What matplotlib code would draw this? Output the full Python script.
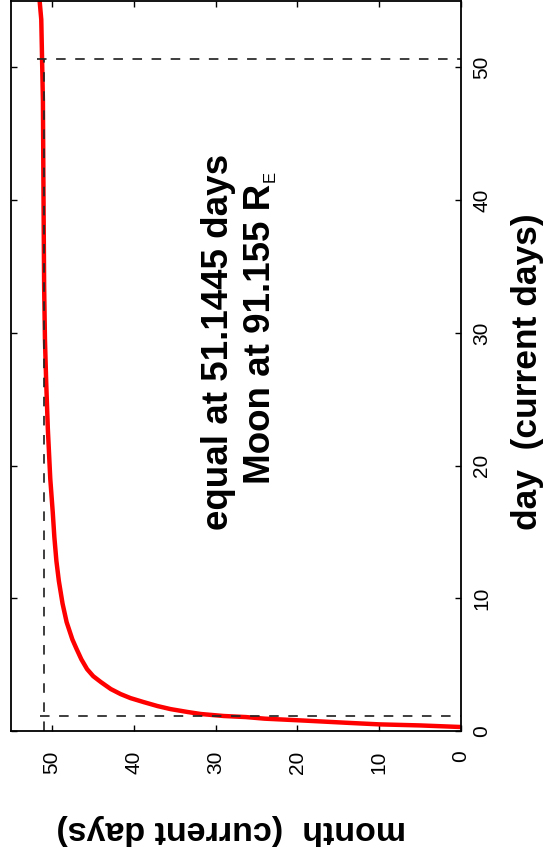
import matplotlib
matplotlib.use("Agg")
import matplotlib.pyplot as plt

plt.rcParams['font.family'] = ['Liberation Sans', 'DejaVu Sans']

# curve data: day (current days) vs month (current days)
day = [0.30, 0.42, 0.50, 0.62, 0.78, 0.93, 1.05, 1.13, 1.28, 1.43, 1.65, 1.88,
       2.18, 2.48, 2.78, 3.16, 3.68, 4.13, 4.66, 5.4, 6.2, 6.9, 8.2, 9.6,
       11.3, 12.8, 14.6, 16.5, 19.0, 22.8, 26.3, 29.5, 33.5, 37.8, 42.5, 47.5, 53.6, 55.0]
month = [0.0, 5.0, 10.0, 14.0, 19.0, 24.0, 26.3, 29.0, 31.8, 33.4, 35.5, 37.1,
         38.8, 40.4, 41.6, 42.8, 44.0, 44.95, 45.7, 46.4, 47.0, 47.5, 48.2, 48.7,
         49.15, 49.45, 49.7, 49.9, 50.2, 50.5, 50.7, 50.85, 50.95, 51.0, 51.05, 51.1, 51.3, 51.5]

# reference (dashed) lines
equal_month = 51.0
equal_day = 50.6
today_day = 1.1
hline_start = [51.8, 51.5]

day_ticks = [0, 10, 20, 30, 40, 50]
month_ticks = [0, 10, 20, 30, 40, 50]
xlim_month = (55, 0)
ylim_day = (0, 55)

fig = plt.figure(figsize=(5.46, 8.52), dpi=100)
ax = fig.add_axes([11/546, 1 - 731/852, 450/546, 730/852])

ax.plot(month, day, color='#ff0000', lw=3.2, solid_joinstyle='round')

dash = (0, (5.5, 5.5))
dcol = '#262626'
ax.plot([equal_month, equal_month], [0, equal_day], color=dcol, lw=1.25, ls=dash)
ax.plot([hline_start[0], 0], [equal_day, equal_day], color=dcol, lw=1.25, ls=dash)
ax.plot([hline_start[1], 0], [today_day, today_day], color=dcol, lw=1.25, ls=dash)

ax.set_xlim(*xlim_month)
ax.set_ylim(*ylim_day)
ax.set_xticks(month_ticks)
ax.set_yticks(day_ticks)
ax.set_xticklabels([str(t) for t in month_ticks], rotation=90, fontsize=15)
ax.set_yticklabels([str(t) for t in day_ticks], rotation=90, fontsize=15, va='center')
ax.tick_params(axis='both', direction='in', length=4.5, width=1.0,
               top=True, bottom=True, left=True, right=True,
               labelleft=False, labelright=True, labelbottom=True, labeltop=False)
ax.tick_params(axis='x', pad=14)
ax.tick_params(axis='y', pad=8)
for s in ax.spines.values():
    s.set_linewidth(1.3)

ax.set_xlabel("month  (current days)", rotation=180, fontsize=24.5, fontweight='bold')
ax.xaxis.set_label_coords(0.489, -0.135)
ax.xaxis.label.set_va('center')
ax.yaxis.set_label_position('right')
ax.set_ylabel("day  (current days)", rotation=90, fontsize=25.5, fontweight='bold')
ax.yaxis.set_label_coords((527-11)/450, 0.4925)
ax.yaxis.label.set_va('center')
ax.yaxis.label.set_ha('center')

ax.text((218-11)/450, (731-341)/731, "equal at 51.1445 days", rotation=90,
        transform=ax.transAxes, ha='center', va='center', fontsize=26.5, fontweight='bold')
t2 = ax.text((260-11)/450, (731-333)/731, "Moon at 91.155 R", rotation=90,
             transform=ax.transAxes, ha='center', va='center', fontsize=26.5, fontweight='bold')
ax.annotate("E", xy=(1.0, 1.0), xycoords=t2, xytext=(0, 1), textcoords='offset points',
            rotation=90, ha='right', va='bottom', fontsize=12)

fig.savefig("out.png", dpi=100)
